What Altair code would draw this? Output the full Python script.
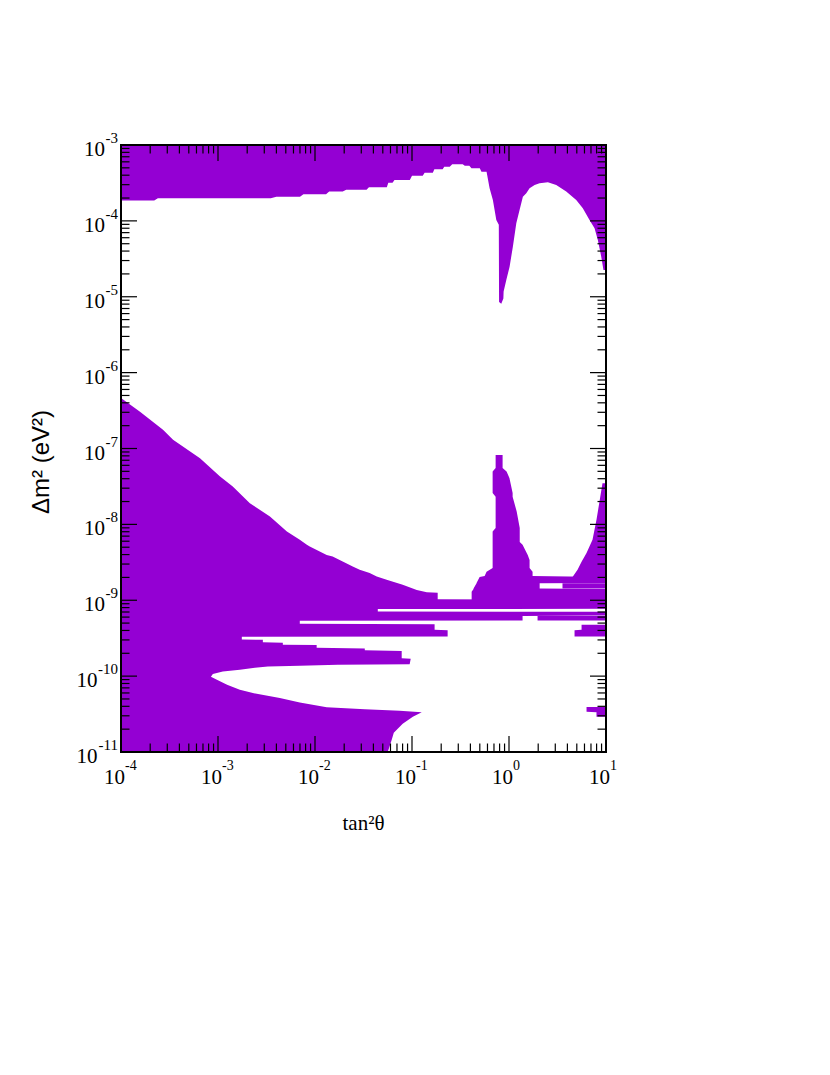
import altair as alt
import pandas as pd

PURPLE = "#9400D3"
SERIF = "Liberation Serif"
SANS = "Liberation Sans"
W, H = 485, 607

# ---- tick labels ----
x_tick_vals = [1e-4, 1e-3, 1e-2, 1e-1, 1.0, 10.0]
x_tick_exps = ["-4", "-3", "-2", "-1", "0", "1"]
y_tick_vals = [1e-11, 1e-10, 1e-9, 1e-8, 1e-7, 1e-6, 1e-5, 1e-4, 1e-3]
y_tick_exps = ["-11", "-10", "-9", "-8", "-7", "-6", "-5", "-4", "-3"]

# ---- upper allowed region: lower boundary (tan^2 theta, dm^2) ----
top_x = [1.0e-4, 2.2e-4, 2.4e-4, 3.5e-3, 4.0e-3, 7.0e-3, 7.6e-3, 1.3e-2, 1.4e-2, 1.93e-2,
         2.1e-2, 3.4e-2, 3.6e-2, 5.5e-2, 5.7e-2, 6.3e-2, 6.6e-2, 9.5e-2, 0.10, 0.129,
         0.135, 0.164, 0.17, 0.207, 0.215, 0.245, 0.26, 0.333, 0.35, 0.39,
         0.41, 0.50, 0.52, 0.587, 0.60, 0.631, 0.682, 0.740, 0.785, 0.79,
         0.832, 0.875, 0.88, 0.938, 1.014, 1.096, 1.189, 1.285, 1.390, 1.507,
         1.629, 1.837, 2.065, 2.518, 3.069, 3.890, 4.932, 5.768, 6.761, 7.621,
         8.241, 8.933, 9.419, 10.0]
top_lo = [1.85e-4, 1.85e-4, 1.99e-4, 1.99e-4, 2.08e-4, 2.08e-4, 2.24e-4, 2.24e-4, 2.43e-4, 2.43e-4,
          2.58e-4, 2.58e-4, 2.77e-4, 2.77e-4, 3.18e-4, 3.18e-4, 3.46e-4, 3.46e-4, 3.94e-4, 3.94e-4,
          4.32e-4, 4.32e-4, 4.79e-4, 4.79e-4, 5.18e-4, 5.18e-4, 5.57e-4, 5.57e-4, 5.33e-4, 5.33e-4,
          4.93e-4, 4.93e-4, 4.45e-4, 4.45e-4, 3.82e-4, 2.69e-4, 1.88e-4, 1.03e-4, 8.9e-5, 8.5e-6,
          8.1e-6, 9.5e-6, 1.17e-5, 1.66e-5, 2.49e-5, 4.57e-5, 9.29e-5, 1.39e-4, 2.08e-4, 2.31e-4,
          2.69e-4, 2.97e-4, 3.13e-4, 3.23e-4, 2.97e-4, 2.43e-4, 1.88e-4, 1.47e-4, 1.03e-4, 8.0e-5,
          5.6e-5, 3.37e-5, 2.25e-5, 2.25e-5]

# ---- lower allowed regions: rows of dm^2 with left/right tan^2 theta edges ----
# main left region (left edge at the axis)
left_y = [1.0e-11, 1.45e-11, 1.79e-11, 2.36e-11, 2.91e-11, 3.33e-11, 3.49e-11, 3.67e-11, 3.90e-11, 4.49e-11,
          5.13e-11, 5.97e-11, 6.59e-11, 7.67e-11, 8.93e-11, 9.8e-11, 1.07e-10, 1.15e-10, 1.21e-10, 1.29e-10,
          1.34e-10, 1.37e-10, 1.41e-10, 1.43e-10, 1.69e-10, 1.72e-10, 2.15e-10, 2.19e-10, 2.32e-10, 2.36e-10,
          2.57e-10, 2.60e-10, 2.75e-10, 2.79e-10, 3.01e-10, 3.05e-10, 3.30e-10, 3.34e-10, 4.01e-10, 4.07e-10,
          4.81e-10, 4.89e-10, 5.36e-10, 5.41e-10, 6.22e-10, 6.31e-10, 7.03e-10, 7.10e-10, 7.64e-10, 7.71e-10,
          1.01e-9, 1.03e-9, 1.26e-9, 1.27e-9, 1.37e-9, 1.60e-9, 1.86e-9, 2.05e-9, 2.28e-9, 2.52e-9,
          2.78e-9, 3.24e-9, 3.77e-9, 3.96e-9, 5.10e-9, 5.37e-9, 6.25e-9, 8.04e-9, 1.27e-8, 1.90e-8,
          3.15e-8, 4.27e-8, 7.45e-8, 1.30e-7, 1.76e-7, 3.06e-7, 4.64e-7]
left_xr = [5.62e-2, 6.18e-2, 6.49e-2, 8.02e-2, 1.02e-1, 1.26e-1, 7.46e-2, 3.26e-2, 1.32e-2, 6.97e-3,
           4.34e-3, 2.29e-3, 1.68e-3, 1.24e-3, 9.75e-4, 8.45e-4, 8.85e-4, 1.12e-3, 1.68e-3, 2.40e-3,
           3.27e-3, 6.97e-3, 1.72e-2, 9.46e-2, 9.70e-2, 7.83e-2, 7.83e-2, 3.26e-2, 3.26e-2, 1.04e-2,
           1.04e-2, 4.66e-3, 4.66e-3, 2.90e-3, 2.90e-3, 1.76e-3, 1.76e-3, 2.33e-1, 2.33e-1, 1.71e-1,
           1.71e-1, 6.97e-3, 6.97e-3, 1.38, 1.38, 10.0, 10.0, 4.44e-2, 4.44e-2, 10.0,
           10.0, 1.84e-1, 1.84e-1, 1.42e-1, 1.12e-1, 8.02e-2, 5.48e-2, 4.33e-2, 3.66e-2, 2.89e-2,
           2.45e-2, 1.93e-2, 1.52e-2, 1.32e-2, 8.83e-3, 8.24e-3, 6.97e-3, 5.13e-3, 3.43e-3, 2.13e-3,
           1.42e-3, 1.05e-3, 6.52e-4, 3.44e-4, 2.71e-4, 1.57e-4, 1.0e-4]

# spike near maximal mixing plus the bridge to the right
spike_y = [8.24e-8, 5.55e-8, 4.97e-8, 4.10e-8, 2.60e-8, 2.32e-8, 1.48e-8, 8.99e-9, 8.04e-9, 5.87e-9,
           5.37e-9, 3.96e-9, 3.40e-9, 2.67e-9, 2.37e-9, 2.09e-9, 2.03e-9, 1.69e-9, 1.68e-9, 1.43e-9,
           1.41e-9, 1.29e-9, 1.01e-9]
spike_xl = [0.728, 0.728, 0.678, 0.678, 0.678, 0.728, 0.728, 0.728, 0.678, 0.678,
            0.678, 0.678, 0.678, 0.678, 0.587, 0.561, 0.498, 0.463, 0.463, 0.431,
            0.431, 0.412, 0.412]
spike_xr = [0.859, 0.859, 0.944, 1.01, 1.09, 1.09, 1.20, 1.29, 1.29, 1.29,
            1.38, 1.56, 1.63, 1.63, 1.75, 1.75, 10.0, 10.0, 2.07, 2.07,
            10.0, 10.0, 10.0]

# right-hand edge region
right_y = [3.49e-8, 2.0e-8, 1.15e-8, 6.25e-9, 4.18e-9, 3.21e-9, 2.52e-9, 2.03e-9]
right_xl = [9.20, 8.57, 7.98, 7.26, 6.30, 5.60, 5.09, 4.52]

# small islands
lens_y, lens_xl = [1.68e-9, 1.43e-9], [3.56, 3.56]
notch_y, notch_xl = [6.22e-10, 5.41e-10], [1.97, 1.97]
isl1_y, isl1_xl = [4.74e-10, 4.07e-10, 4.01e-10, 3.33e-10], [5.60, 5.60, 4.74, 4.74]
isl2_y, isl2_xl = [3.93e-11, 3.38e-11, 3.33e-11, 2.91e-11], [6.30, 6.30, 7.98, 7.98]

# ---- assemble tables ----
rows = []
def add_piece(name, ys, xls, xrs):
    for yv, a, b in zip(ys, xls, xrs):
        rows.append({"piece": name, "y": yv, "xl": a, "xr": b})

add_piece("left", left_y, [1e-4] * len(left_y), left_xr)
add_piece("spike", spike_y, spike_xl, spike_xr)
add_piece("right", right_y, right_xl, [10.0] * len(right_y))
add_piece("lens", lens_y, lens_xl, [10.0] * len(lens_y))
add_piece("notch", notch_y, notch_xl, [10.0] * len(notch_y))
add_piece("isl1", isl1_y, isl1_xl, [10.0] * len(isl1_y))
add_piece("isl2", isl2_y, isl2_xl, [10.0] * len(isl2_y))
low_df = pd.DataFrame(rows)
top_df = pd.DataFrame({"x": top_x, "y": top_lo, "ytop": [1e-3] * len(top_x)})

xs = alt.Scale(type="log", domain=[1e-4, 10], nice=False)
ys = alt.Scale(type="log", domain=[1e-11, 1e-3], nice=False)

top = alt.Chart(top_df).mark_area(color=PURPLE, orient="vertical").encode(
    x=alt.X("x:Q", scale=xs, axis=None),
    y=alt.Y("y:Q", scale=ys, axis=None, stack=None),
    y2="ytop:Q",
)

low = alt.Chart(low_df).mark_area(color=PURPLE, orient="horizontal").encode(
    y=alt.Y("y:Q", scale=ys, axis=None),
    x=alt.X("xr:Q", scale=xs, axis=None, stack=None),
    x2="xl:Q",
    detail="piece:N",
)

# ---- tick marks (inward, all four sides) ----
x_minor = [m * 10.0 ** k for k in range(-4, 1) for m in range(2, 10)]
y_minor = [m * 10.0 ** k for k in range(-11, -3) for m in range(2, 10)]
MAJ, MIN = 16, 8.5

def xticks(vals, ln):
    d = pd.DataFrame({"v": vals})
    base = alt.Chart(d).mark_rule(color="black", strokeWidth=1.2)
    b = base.encode(x=alt.X("v:Q", scale=xs, axis=None), y=alt.value(H), y2=alt.value(H - ln))
    t = base.encode(x=alt.X("v:Q", scale=xs, axis=None), y=alt.value(0), y2=alt.value(ln))
    return [b, t]

def yticks(vals, ln):
    d = pd.DataFrame({"v": vals})
    base = alt.Chart(d).mark_rule(color="black", strokeWidth=1.2)
    l = base.encode(y=alt.Y("v:Q", scale=ys, axis=None), x=alt.value(0), x2=alt.value(ln))
    r = base.encode(y=alt.Y("v:Q", scale=ys, axis=None), x=alt.value(W), x2=alt.value(W - ln))
    return [l, r]

ticks = xticks(x_tick_vals, MAJ) + xticks(x_minor, MIN) + yticks(y_tick_vals, MAJ) + yticks(y_minor, MIN)

frame = alt.Chart(pd.DataFrame({"a": [0]})).mark_rect(
    fill="white", fillOpacity=0, stroke="black", strokeWidth=2
).encode(x=alt.value(0), x2=alt.value(W), y=alt.value(0), y2=alt.value(H))

# ---- tick labels as 10 with superscript exponent ----
xlab = pd.DataFrame({"v": x_tick_vals, "e": x_tick_exps})
x10 = alt.Chart(xlab).mark_text(text="10", align="right", baseline="alphabetic", dx=4,
                                font=SERIF, fontSize=21, color="black").encode(
    x=alt.X("v:Q", scale=xs, axis=None), y=alt.value(H + 32))
xexp = alt.Chart(xlab).mark_text(align="left", baseline="alphabetic", dx=4,
                                 font=SERIF, fontSize=14, color="black").encode(
    x=alt.X("v:Q", scale=xs, axis=None), y=alt.value(H + 18), text="e:N")

ylab = pd.DataFrame({"v": y_tick_vals, "e": y_tick_exps})
YR = -3
yexp = alt.Chart(ylab).mark_text(align="right", baseline="alphabetic", dy=-2,
                                 font=SERIF, fontSize=15, color="black").encode(
    y=alt.Y("v:Q", scale=ys, axis=None), x=alt.value(YR), text="e:N")
y10a = alt.Chart(ylab).transform_filter("length(datum.e) == 2").mark_text(
    text="10", align="right", baseline="alphabetic", dy=11, font=SERIF, fontSize=21, color="black"
).encode(y=alt.Y("v:Q", scale=ys, axis=None), x=alt.value(YR - 13))
y10b = alt.Chart(ylab).transform_filter("length(datum.e) == 3").mark_text(
    text="10", align="right", baseline="alphabetic", dy=11, font=SERIF, fontSize=21, color="black"
).encode(y=alt.Y("v:Q", scale=ys, axis=None), x=alt.value(YR - 20.5))

# ---- axis titles ----
xtitle = alt.Chart(pd.DataFrame({"t": ["tan\u00b2\u03b8"]})).mark_text(
    align="center", baseline="alphabetic", font=SERIF, fontSize=21, color="black"
).encode(x=alt.value(W / 2), y=alt.value(H + 78), text="t:N")
ytitle = alt.Chart(pd.DataFrame({"t": ["\u0394m\u00b2 (eV\u00b2)"]})).mark_text(
    align="center", baseline="middle", angle=270, font=SANS, fontSize=24, color="black"
).encode(x=alt.value(-79), y=alt.value(317), text="t:N")

chart = alt.layer(top, low, *ticks, frame, x10, xexp, yexp, y10a, y10b, xtitle, ytitle).properties(
    width=W, height=H,
    autosize=alt.AutoSizeParams(type="none"),
    padding={"left": 113, "top": 137, "right": 30, "bottom": 150},
).configure_view(strokeOpacity=0)

chart.save("out.html", embed_options={"renderer": "svg", "actions": False})
